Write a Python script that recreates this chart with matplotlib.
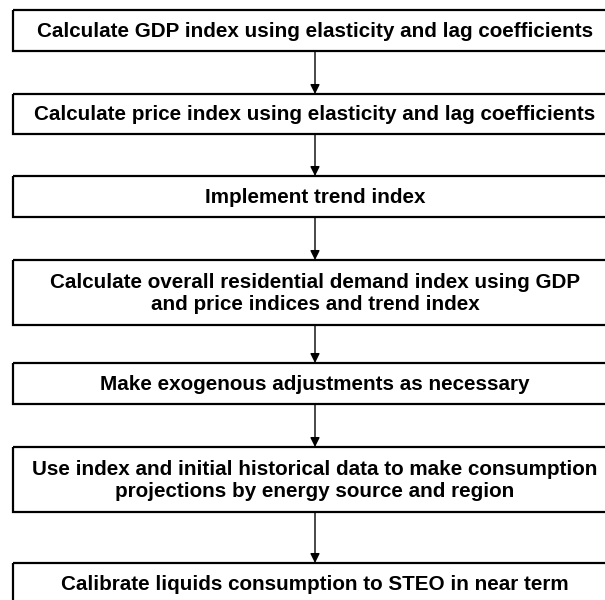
import matplotlib
matplotlib.use('Agg')
import matplotlib.pyplot as plt
from matplotlib.patches import Rectangle

# flowchart steps, top to bottom
steps = [
    'Calculate GDP index using elasticity and lag coefficients',
    'Calculate price index using elasticity and lag coefficients',
    'Implement trend index',
    'Calculate overall residential demand index using GDP\nand price indices and trend index',
    'Make exogenous adjustments as necessary',
    'Use index and initial historical data to make consumption\nprojections by energy source and region',
    'Calibrate liquids consumption to STEO in near term',
]
box_top = [10, 94, 176, 260, 363, 447, 563]
box_bottom = [51, 134, 217, 325, 404, 512, 604]

W, H = 605, 600
LEFT, RIGHT = 13, 617
CX = 315

fig = plt.figure(figsize=(W / 100, H / 100), dpi=100)
ax = fig.add_axes([0, 0, 1, 1])
ax.set_xlim(0, W)
ax.set_ylim(H, 0)
ax.axis('off')

for i, (label, t, b) in enumerate(zip(steps, box_top, box_bottom)):
    ax.add_patch(Rectangle((LEFT, t), RIGHT - LEFT, b - t, fill=False,
                           edgecolor='black', lw=1.6))
    ax.text(CX, (t + b) / 2 + 1, label, ha='center', va='center',
            fontsize=14.85, fontweight='bold', family='Liberation Sans',
            linespacing=1.25)
    if i + 1 < len(steps):
        ax.annotate('', xy=(CX, box_top[i + 1]), xytext=(CX, b),
                    arrowprops=dict(arrowstyle='-|>', lw=1, color='black',
                                    mutation_scale=14, shrinkA=0, shrinkB=0))

fig.savefig('out.png', dpi=100)
